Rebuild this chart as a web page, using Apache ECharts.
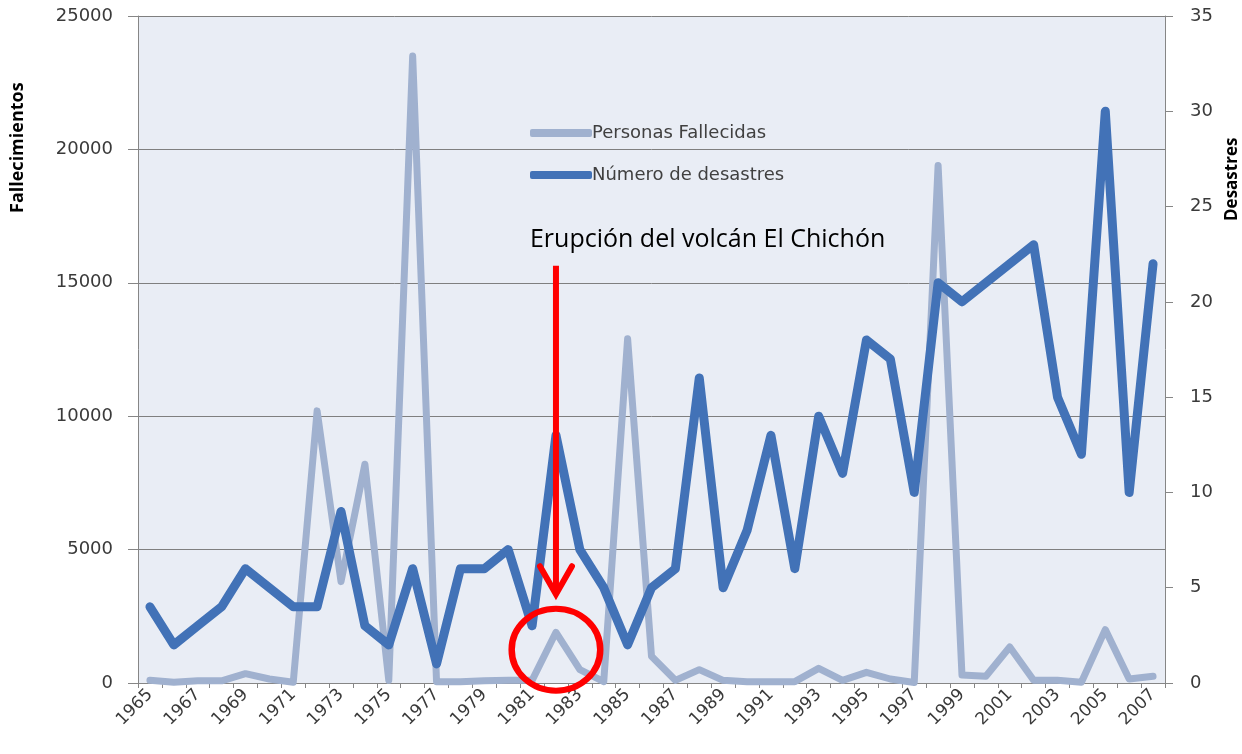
<!DOCTYPE html>
<html>
<head>
<meta charset="utf-8">
<script src="https://cdn.jsdelivr.net/npm/echarts@6/dist/echarts.min.js"></script>
<style>
  html, body { margin: 0; background: #fff; }
  #chart { width: 1242px; height: 754px; }
</style>
</head>
<body>
<div id="chart"></div>
<script>
// años 1965 - 2007
const years = []
for (let y = 1965; y <= 2007; y++) years.push(String(y))

// Personas fallecidas (eje izquierdo)
const fallecidos = [
  100, 30, 80, 80, 350, 150, 30, 10200, 3800, 8200,
  100, 23500, 50, 50, 80, 100, 100, 1900, 500, 50,
  12900, 1000, 100, 500, 100, 50, 50, 50, 550, 100,
  400, 150, 20, 19400, 300, 250, 1350, 100, 100, 30,
  2000, 150, 250
]

// Número de desastres (eje derecho)
const desastres = [
  4, 2, 3, 4, 6, 5, 4, 4, 9, 3,
  2, 6, 1, 6, 6, 7, 3, 13, 7, 5,
  2, 5, 6, 16, 5, 8, 13, 6, 14, 11,
  18, 17, 10, 21, 20, 21, 22, 23, 15, 12,
  30, 10, 22
]

const leftTicks = [0, 5000, 10000, 15000, 20000, 25000]
const rightTicks = [0, 5, 10, 15, 20, 25, 30, 35]

const chart = echarts.init(document.getElementById('chart'))

const axisColor = '#868686'
const labelColor = '#3a3a3a'

chart.setOption({
  animation: false,
  grid: {
    left: 138, right: 77, top: 16, bottom: 71,
    show: true, backgroundColor: '#e9edf5', borderWidth: 0
  },
  legend: {
    orient: 'vertical',
    left: 525, top: 119,
    itemWidth: 62, itemHeight: 8,
    itemGap: 24,
    icon: 'roundRect',
    textStyle: { fontFamily: 'DejaVu Sans', fontSize: 18, color: '#404040', padding: [0, 0, 0, -5] },
    data: ['Personas Fallecidas', 'Número de desastres']
  },
  xAxis: {
    type: 'category',
    data: years,
    boundaryGap: true,
    axisLine: { lineStyle: { color: axisColor } },
    axisTick: { show: true, interval: 0, length: 5, lineStyle: { color: axisColor } },
    axisLabel: {
      interval: 1, rotate: 45, margin: 9,
      fontFamily: 'DejaVu Sans', fontSize: 17, color: labelColor
    }
  },
  yAxis: [
    {
      type: 'value',
      min: leftTicks[0], max: leftTicks[leftTicks.length - 1], interval: leftTicks[1] - leftTicks[0],
      axisLine: { show: true, lineStyle: { color: axisColor } },
      axisTick: { show: true, length: 10, lineStyle: { color: axisColor } },
      axisLabel: { margin: 25, fontFamily: 'DejaVu Sans', fontSize: 18, color: labelColor, formatter: v => String(v) },
      splitLine: { lineStyle: { color: '#7f7f7f', width: 1 } }
    },
    {
      type: 'value',
      min: rightTicks[0], max: rightTicks[rightTicks.length - 1], interval: rightTicks[1] - rightTicks[0],
      position: 'right',
      axisLine: { show: true, lineStyle: { color: axisColor } },
      axisTick: { show: true, length: 8, lineStyle: { color: axisColor } },
      axisLabel: { margin: 25, fontFamily: 'DejaVu Sans', fontSize: 18, color: labelColor },
      splitLine: { show: false }
    }
  ],
  series: [
    {
      name: 'Personas Fallecidas',
      type: 'line',
      yAxisIndex: 0,
      data: fallecidos,
      symbol: 'none',
      itemStyle: { color: '#a0b1cf' },
      lineStyle: { color: '#a0b1cf', width: 7, cap: 'round', join: 'round' }
    },
    {
      name: 'Número de desastres',
      type: 'line',
      yAxisIndex: 1,
      data: desastres,
      symbol: 'none',
      itemStyle: { color: '#4272b7' },
      lineStyle: { color: '#4272b7', width: 9, cap: 'round', join: 'round' }
    }
  ]
})

// anotación: flecha y círculo sobre 1982, en unidades del eje derecho
const anchorYear = '1982'
const arrowTop = chart.convertToPixel({ xAxisIndex: 0, yAxisIndex: 1 }, [anchorYear, 21.9])
const arrowTip = chart.convertToPixel({ xAxisIndex: 0, yAxisIndex: 1 }, [anchorYear, 4.5])
const ring = chart.convertToPixel({ xAxisIndex: 0, yAxisIndex: 1 }, [anchorYear, 1.75])

chart.setOption({
  graphic: [
    {
      type: 'text', z: 100,
      rotation: Math.PI / 2,
      x: 18, y: 213,
      style: { text: 'Fallecimientos', fontFamily: 'Open Sans', fontWeight: 'bold', fontSize: 18, fill: '#000', textAlign: 'left', textVerticalAlign: 'middle' }
    },
    {
      type: 'text', z: 100,
      rotation: Math.PI / 2,
      x: 1232, y: 221,
      style: { text: 'Desastres', fontFamily: 'Open Sans', fontWeight: 'bold', fontSize: 17, fill: '#000', textAlign: 'left', textVerticalAlign: 'middle' }
    },
    {
      type: 'text', z: 100,
      x: arrowTop[0] - 26, y: 240,
      style: { text: 'Erupción del volcán El Chichón', fontFamily: 'Open Sans', fontSize: 25, fill: '#000', textVerticalAlign: 'middle' }
    },
    {
      type: 'line', z: 100,
      shape: { x1: arrowTop[0], y1: arrowTop[1], x2: arrowTip[0], y2: arrowTip[1] - 3 },
      style: { stroke: '#ff0000', lineWidth: 6 }
    },
    {
      type: 'polyline', z: 100,
      shape: { points: [[arrowTip[0] - 16, arrowTip[1] - 31], [arrowTip[0], arrowTip[1] - 3], [arrowTip[0] + 16, arrowTip[1] - 31]] },
      style: { stroke: '#ff0000', lineWidth: 6, lineCap: 'round', lineJoin: 'miter', fill: null }
    },
    {
      type: 'circle', z: 100,
      x: ring[0], y: ring[1],
      scaleX: 1.08, scaleY: 1,
      shape: { cx: 0, cy: 0, r: 41 },
      style: { stroke: '#ff0000', lineWidth: 6, fill: null }
    }
  ]
})
</script>
</body>
</html>
